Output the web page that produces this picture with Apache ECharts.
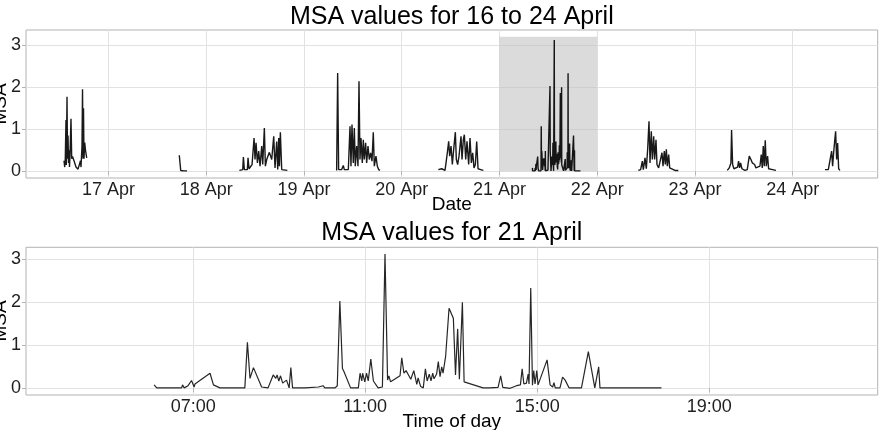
<!DOCTYPE html>
<html>
<head>
<meta charset="utf-8">
<title>MSA values</title>
<script src="https://cdn.jsdelivr.net/npm/echarts@6/dist/echarts.min.js"></script>
<style>
  html, body { margin: 0; padding: 0; background: #fff; }
  #chart { width: 881px; height: 430px; }
</style>
</head>
<body>
<div id="chart"></div>
<script>
const FIRST_DAY = 16
const TZ_SHIFT = 2 // the week panel runs 2 h ahead of the 21 April panel

// [hour of day, MSA]
const apr16 = [[13.07,0.25],[13.25,0.1],[13.39,0.3],[13.56,1.22],[13.64,0.15],[13.81,1.77],[13.93,0.3],[14.06,0.85],[14.18,0.2],[14.30,0.5],[14.42,0.1],[14.55,0.4],[14.79,1.25],[14.96,0.3],[15.16,0.35],[15.53,0.25],[16.02,0.1],[16.51,0.05],[16.88,0.05],[17.12,0.25],[17.25,0.1],[17.49,0.6],[17.62,1.95],[17.74,0.3],[17.86,1.5],[17.98,0.3],[18.16,0.68],[18.35,0.5],[18.65,0.32]]
const apr17 = [[17.38,0.38],[17.73,0.02],[18.5,0.01],[19.28,0.01]]
const apr18 = [[8.14,0.02],[8.96,0.04],[9.12,0.34],[9.36,0.04],[10.10,0.04],[10.26,0.32],[10.51,0.06],[10.92,0.08],[11.25,0.16],[11.74,0.79],[11.98,0.28],[12.23,0.68],[12.56,0.20],[12.88,0.48],[13.21,0.12],[13.62,0.60],[13.87,0.16],[14.27,1.03],[14.52,0.12],[14.85,0.28],[15.50,0.45],[16.08,0.28],[16.57,0.83],[16.89,0.08],[17.30,0.71],[17.55,0.04],[17.80,0.79],[17.96,0.12],[18.20,0.93],[18.53,0.04],[18.94,0.04],[19.92,0.02]]
const apr19 = [[8.02,0.02],[8.27,2.34],[8.51,0.04],[9.25,0.04],[9.66,0.14],[9.90,0.04],[10.89,0.04],[11.30,1.07],[11.54,0.12],[11.79,1.11],[12.11,0.20],[12.36,1.03],[12.60,0.12],[12.93,0.60],[13.26,0.12],[13.51,2.14],[13.75,0.28],[14.00,0.79],[14.32,0.20],[14.57,0.75],[14.81,0.28],[15.14,0.68],[15.39,0.20],[15.72,0.60],[16.04,0.28],[16.37,0.44],[16.70,0.24],[17.02,0.93],[17.27,0.12],[17.68,0.36],[18.01,0.12],[18.34,0.04],[18.66,0.02]]
const apr20 = [[8.99,0.04],[9.81,0.06],[10.63,0.02],[10.88,0.2],[11.20,0.44],[11.53,0.71],[11.78,0.36],[12.11,0.6],[12.43,0.16],[12.76,0.52],[13.17,0.93],[13.41,0.28],[13.74,0.16],[14.07,0.36],[14.32,0.6],[14.56,0.83],[14.81,0.28],[15.13,0.75],[15.38,0.87],[15.71,0.28],[16.03,0.71],[16.44,0.16],[16.77,0.79],[17.10,0.2],[17.43,0.44],[17.75,0.08],[18.08,0.16],[18.41,0.71],[18.74,0.06],[19.39,0.04],[20.04,0.02]]
// 21 April, in the time of the lower panel
const apr21 = [[6.09,0.08],[6.15,0.01],[6.73,0.01],[6.75,0.08],[6.79,0.01],[6.88,0.06],[6.96,0.18],[7.02,0.03],[7.04,0.1],[7.39,0.35],[7.47,0.08],[7.62,0.01],[8.20,0.01],[8.26,1.07],[8.32,0.23],[8.40,0.48],[8.59,0.03],[8.74,0.01],[8.86,0.31],[8.92,0.23],[8.95,0.31],[8.99,0.17],[9.03,0.29],[9.08,0.12],[9.17,0.19],[9.23,0.01],[9.27,0.48],[9.31,0.01],[9.60,0.01],[9.91,0.03],[10.02,0.06],[10.06,0.01],[10.30,0.01],[10.35,0.06],[10.41,2.03],[10.47,0.46],[10.50,0.40],[10.66,0.01],[10.84,0.01],[10.88,0.35],[10.92,0.17],[10.94,0.35],[10.99,0.15],[11.03,0.35],[11.07,0.17],[11.13,0.68],[11.19,0.17],[11.30,0.01],[11.40,0.03],[11.46,3.12],[11.52,0.19],[11.55,0.29],[11.59,0.15],[11.81,0.29],[11.85,0.71],[11.90,0.35],[11.95,0.41],[12.00,0.32],[12.06,0.21],[12.13,0.41],[12.20,0.09],[12.23,0.24],[12.29,0.04],[12.35,0.01],[12.40,0.45],[12.44,0.17],[12.49,0.33],[12.53,0.17],[12.57,0.35],[12.60,0.22],[12.66,0.33],[12.70,0.62],[12.74,0.27],[12.78,0.50],[12.81,0.35],[12.87,0.74],[12.91,0.76],[12.95,1.86],[13.05,1.63],[13.10,0.31],[13.15,1.38],[13.19,0.21],[13.26,2.0],[13.30,0.15],[13.74,0.01],[13.90,0.01],[14.09,0.02],[14.15,0.29],[14.20,0.02],[14.37,0.0],[14.52,0.06],[14.61,0.08],[14.65,0.45],[14.69,0.1],[14.75,0.12],[14.79,0.33],[14.81,0.1],[14.85,2.33],[14.89,0.07],[14.92,0.41],[14.95,0.1],[14.99,0.41],[15.02,0.08],[15.05,0.07],[15.23,0.66],[15.30,0.08],[15.36,0.03],[15.39,0.13],[15.42,0.01],[15.53,0.01],[15.59,0.26],[15.65,0.19],[15.68,0.19],[15.74,0.01],[16.03,0.01],[16.19,0.85],[16.34,0.01],[16.38,0.01],[16.43,0.5],[16.46,0.01],[16.65,0.01],[16.69,0.02],[16.77,0.01],[17.89,0.01]]
const apr22 = [[10.10,0.02],[10.67,0.04],[11.08,0.24],[11.33,0.04],[11.74,0.32],[12.06,0.06],[12.39,0.52],[12.72,1.19],[12.97,0.2],[13.29,0.95],[13.54,0.28],[13.87,0.83],[14.11,0.28],[14.44,0.75],[14.68,0.16],[15.09,0.08],[15.58,0.12],[15.91,0.44],[16.16,0.12],[16.48,0.48],[16.73,0.16],[16.98,0.52],[17.22,0.12],[17.55,0.40],[17.80,0.08],[18.29,0.04],[19.10,0.02],[19.92,0.02]]
const apr23 = [[7.94,0.02],[8.43,0.08],[8.84,0.2],[9.00,0.98],[9.25,0.16],[9.58,0.06],[10.07,0.04],[10.48,0.1],[10.72,0.24],[10.97,0.08],[11.21,0.2],[11.54,0.06],[12.28,0.02],[12.85,0.04],[13.34,0.36],[13.75,0.28],[14.08,0.2],[14.32,0.24],[14.65,0.16],[14.98,0.08],[15.47,0.04],[15.96,0.12],[16.29,0.4],[16.53,0.08],[16.78,0.6],[17.02,0.12],[17.27,0.74],[17.52,0.12],[17.84,0.36],[18.09,0.06],[18.42,0.04],[19.07,0.04],[19.89,0.02]]
const apr24 = [[7.93,0.04],[8.75,0.04],[9.16,0.06],[9.57,0.48],[9.81,0.12],[10.06,0.44],[10.31,0.71],[10.55,0.95],[10.80,0.28],[11.04,0.67],[11.29,0.06],[11.61,0.02]]

const dayTicks = [17, 18, 19, 20, 21, 22, 23, 24]
const hourTicks = [7, 11, 15, 19]
const msaTicks = [0, 1, 2, 3]
const highlightDay = 21

// hours since 16 April 00:00
const at = (d, h) => (d - FIRST_DAY) * 24 + h
const week = [[16, apr16], [17, apr17], [18, apr18], [19, apr19], [20, apr20],
  [21, apr21.map(p => [p[0] + TZ_SHIFT, p[1]])], [22, apr22], [23, apr23], [24, apr24]]

const FONT = '"Liberation Sans", Arial, sans-serif'
const TXT = '#1f1f1f'
const GRID = '#e2e2e2'
const FRAME = '#b3b3b3'
const pad = n => (n < 10 ? '0' : '') + n

function xAxisFor(gridIndex, min, max, ticks, fmt) {
  return {
    type: 'value', gridIndex, min, max,
    axisLine: { show: false },
    axisTick: { show: true, length: 4, customValues: ticks, lineStyle: { color: FRAME } },
    axisLabel: { customValues: ticks, formatter: fmt, color: TXT, fontSize: 18, fontFamily: FONT, margin: 3, hideOverlap: false },
    splitLine: { show: true, lineStyle: { color: GRID, width: 1 } }
  }
}

function yAxisFor(gridIndex, min, max) {
  return {
    type: 'value', gridIndex, min, max,
    axisLine: { show: false },
    axisTick: { show: true, length: 4, customValues: msaTicks, lineStyle: { color: FRAME } },
    axisLabel: { customValues: msaTicks, color: TXT, fontSize: 18, fontFamily: FONT, margin: 5 },
    splitLine: { show: true, lineStyle: { color: GRID, width: 1 } }
  }
}

function label(text, x, y, size, rotation) {
  return {
    type: 'text', x, y, rotation: rotation || 0, silent: true,
    style: { text, fill: '#000', fontSize: size, fontFamily: FONT,
      textAlign: 'center', textVerticalAlign: 'middle', align: 'center', verticalAlign: 'middle' }
  }
}

const chart = echarts.init(document.getElementById('chart'))

const weekSeries = week.map(([d, pts]) => ({
  type: 'line', xAxisIndex: 0, yAxisIndex: 0, symbol: 'none', z: 3,
  lineStyle: { color: '#000', width: 1.4, opacity: 0.9 },
  data: pts.map(p => [at(d, p[0]), p[1]]),
  markArea: d === highlightDay ? {
    silent: true,
    itemStyle: { color: 'rgba(190,190,190,0.55)' },
    data: [[{ xAxis: at(highlightDay, 0), yAxis: 0 }, { xAxis: at(highlightDay + 1, 0), yAxis: 3.2 }]]
  } : undefined
}))

chart.setOption({
  animation: false,
  grid: [
    { left: 26, right: 3.3, top: 30, height: 148, show: true, borderColor: FRAME, borderWidth: 1, backgroundColor: 'transparent' },
    { left: 26, right: 3.3, top: 247.3, height: 147.7, show: true, borderColor: FRAME, borderWidth: 1, backgroundColor: 'transparent' }
  ],
  xAxis: [
    xAxisFor(0, at(16, 3.74), at(24, 20.88), dayTicks.map(d => at(d, 0)), v => (FIRST_DAY + Math.round(v / 24)) + ' Apr'),
    xAxisFor(1, 3.11, 22.92, hourTicks, v => pad(Math.round(v)) + ':00')
  ],
  yAxis: [yAxisFor(0, -0.16, 3.36), yAxisFor(1, -0.156, 3.276)],
  series: weekSeries.concat([{
    type: 'line', xAxisIndex: 1, yAxisIndex: 1, symbol: 'none',
    lineStyle: { color: '#262626', width: 1.2 },
    data: apr21
  }]),
  graphic: [
    label('MSA values for 16 to 24 April', 451.8, 16.7, 25),
    label('Date', 451.8, 205, 19),
    label('MSA', 1, 104, 19, Math.PI / 2),
    label('MSA values for 21 April', 451.8, 233.3, 25),
    label('Time of day', 451.8, 422, 19),
    label('MSA', 1, 321, 19, Math.PI / 2)
  ]
})
</script>
</body>
</html>
